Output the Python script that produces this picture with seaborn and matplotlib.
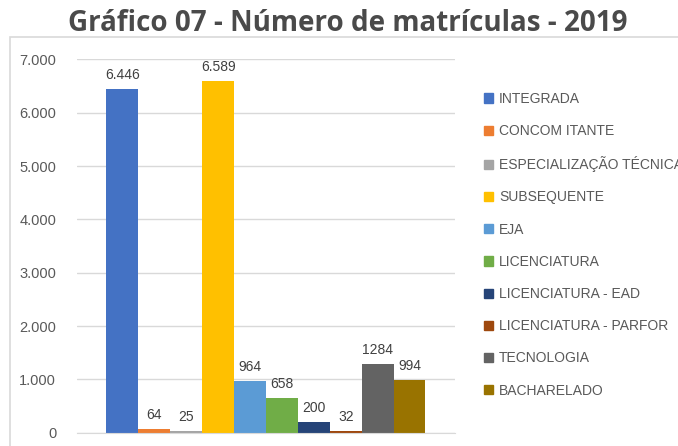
import matplotlib.pyplot as plt
import matplotlib.ticker as mticker
from matplotlib.patches import Rectangle
import seaborn as sns
import pandas as pd

categories = ['INTEGRADA', 'CONCOMITANTE', 'ESPECIALIZAÇÃO TÉCNICA', 'SUBSEQUENTE', 'EJA',
              'LICENCIATURA', 'LICENCIATURA - EAD', 'LICENCIATURA - PARFOR', 'TECNOLOGIA', 'BACHARELADO']
legend_labels = ['INTEGRADA', 'CONCOM ITANTE', 'ESPECIALIZAÇÃO TÉCNICA', 'SUBSEQUENTE', 'EJA',
                 'LICENCIATURA', 'LICENCIATURA - EAD', 'LICENCIATURA - PARFOR', 'TECNOLOGIA', 'BACHARELADO']
values = [6446, 64, 25, 6589, 964, 658, 200, 32, 1284, 994]
value_labels = ['6.446', '64', '25', '6.589', '964', '658', '200', '32', '1284', '994']
colors = ['#4472C4', '#ED7D31', '#A5A5A5', '#FFC000', '#5B9BD5',
          '#70AD47', '#264478', '#9E480E', '#636363', '#997300']
yticks = [0, 1000, 2000, 3000, 4000, 5000, 6000, 7000]

df = pd.DataFrame({'grupo': ['2019'] * len(categories), 'curso': categories, 'matriculas': values})

sns.set_style('white')
plt.rcParams['font.family'] = ['Liberation Sans', 'DejaVu Sans']

fig = plt.figure(figsize=(6.78, 4.46), dpi=100)
ax = fig.add_axes([0.1136, 0.0298, 0.5574, 0.8372])

sns.barplot(data=df, x='grupo', y='matriculas', hue='curso', hue_order=categories,
            palette=colors, width=0.844, dodge=True, saturation=1, linewidth=0,
            ax=ax, legend=False)

for container, lab in zip(ax.containers, value_labels):
    ax.bar_label(container, labels=[lab], padding=5, fontsize=10, color='#404040')

ax.set_ylim(0, 7000)
ax.set_yticks(yticks)
ax.yaxis.set_major_formatter(mticker.FuncFormatter(lambda v, p: f'{int(v):,}'.replace(',', '.')))
ax.tick_params(axis='y', length=0, pad=15, labelsize=10.5, labelcolor='#595959')
ax.set_xticks([])
ax.set_xlabel('')
ax.set_ylabel('')
ax.grid(axis='y', color='#d9d9d9', linewidth=1)
ax.set_axisbelow(True)
for s in ['top', 'right', 'left']:
    ax.spines[s].set_visible(False)
ax.spines['bottom'].set_color('#d9d9d9')

handles = [Rectangle((0, 0), 1, 1, color=c) for c in colors]
fig.legend(handles, legend_labels, loc='upper left', bbox_to_anchor=(0.696, 0.822),
           frameon=False, fontsize=10, labelcolor='#595959', handlelength=0.65, handleheight=0.65,
           handletextpad=0.4, labelspacing=1.31)

# outer chart frame
fig.patches.append(Rectangle((10 / 678, -0.1), 1.2, 1 - 37.5 / 446 + 0.1, transform=fig.transFigure,
                             fill=False, edgecolor='#d9d9d9', linewidth=1.2))

fig.text(0.513, 0.948, 'Gráfico 07 - Número de matrículas - 2019', ha='center', va='center',
         fontsize=20, fontweight='bold', color='#4a4a4a', family=['Open Sans', 'DejaVu Sans'])

fig.savefig('out.png', dpi=100)
plt.close()
